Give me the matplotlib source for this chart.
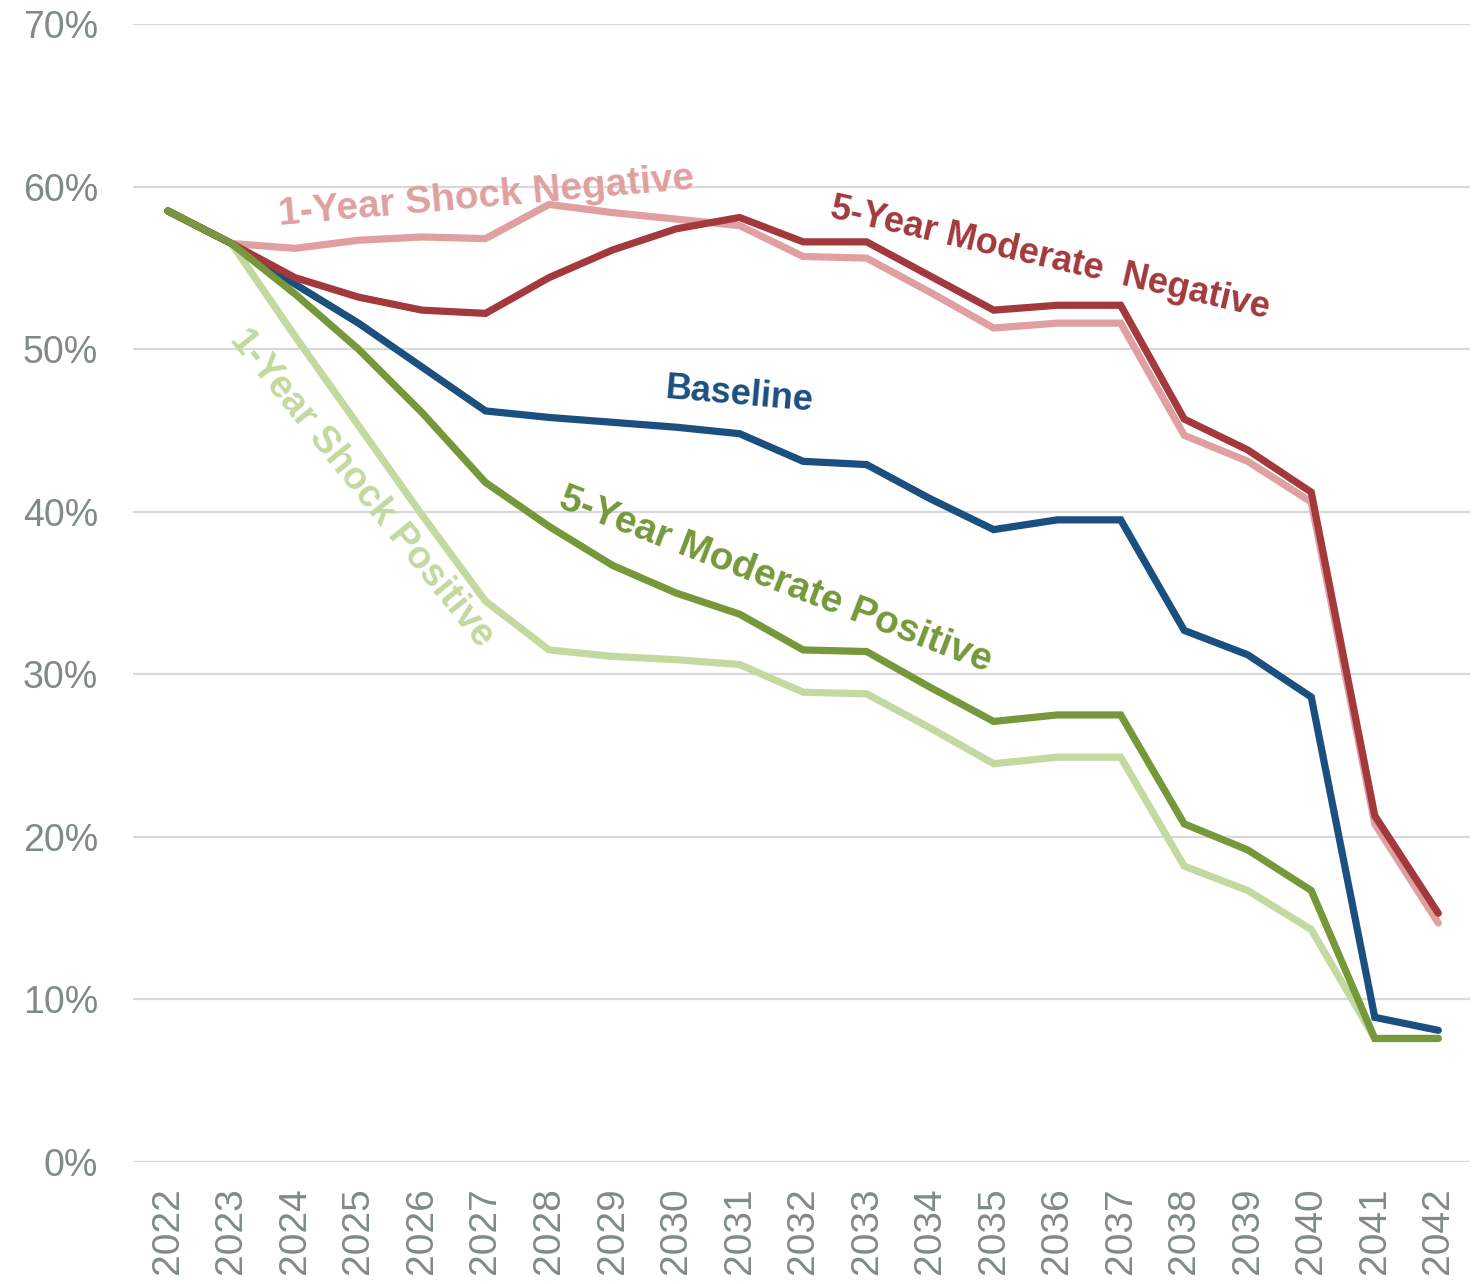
import numpy as np
import matplotlib.pyplot as plt
from matplotlib.ticker import PercentFormatter

plt.rcParams['font.family'] = ['Liberation Sans', 'DejaVu Sans']

years = list(range(2022, 2043))

baseline = [58.5, 56.5, 54.0, 51.6, 48.9, 46.2, 45.8, 45.5, 45.2, 44.8, 43.1, 42.9,
            40.8, 38.9, 39.5, 39.5, 32.7, 31.2, 28.6, 8.9, 8.1]
mod_neg = [58.5, 56.5, 54.4, 53.2, 52.4, 52.2, 54.4, 56.1, 57.4, 58.1, 56.6, 56.6,
           54.5, 52.4, 52.7, 52.7, 45.7, 43.8, 41.2, 21.3, 15.3]
shock_neg = [58.5, 56.5, 56.2, 56.7, 56.9, 56.8, 58.9, 58.4, 58.0, 57.6, 55.7, 55.6,
             53.5, 51.3, 51.6, 51.6, 44.7, 43.1, 40.6, 20.8, 14.7]
mod_pos = [58.5, 56.5, 53.4, 50.0, 46.1, 41.8, 39.1, 36.7, 35.0, 33.7, 31.5, 31.4,
           29.2, 27.1, 27.5, 27.5, 20.8, 19.2, 16.7, 7.6, 7.6]
shock_pos = [58.5, 56.5, 50.8, 45.3, 39.8, 34.5, 31.5, 31.1, 30.9, 30.6, 28.9, 28.8,
             26.7, 24.5, 24.9, 24.9, 18.2, 16.7, 14.3, 7.6, 7.6]

c_blue = '#1a4f7f'
c_red = '#a3393c'
c_pink = '#e0a0a1'
c_green = '#76983a'
c_lgreen = '#c3d99f'
c_tick = '#7f8b89'

fig = plt.figure(figsize=(14.84, 12.84), dpi=100)
ax = fig.add_axes([0.0896, 0.095, 0.901, 0.8863])

lw = 5.2
# drawn back to front so the darker scenarios sit on top
ax.plot(years, np.array(shock_neg) / 100, color=c_pink, lw=lw, solid_capstyle='round', solid_joinstyle='miter', zorder=2)
ax.plot(years, np.array(shock_pos) / 100, color=c_lgreen, lw=lw, solid_capstyle='round', solid_joinstyle='miter', zorder=2)
ax.plot(years, np.array(baseline) / 100, color=c_blue, lw=lw, solid_capstyle='round', solid_joinstyle='miter', zorder=3)
ax.plot(years, np.array(mod_neg) / 100, color=c_red, lw=lw, solid_capstyle='round', solid_joinstyle='miter', zorder=3)
ax.plot(years, np.array(mod_pos) / 100, color=c_green, lw=lw, solid_capstyle='round', solid_joinstyle='miter', zorder=4)

lbl = dict(fontweight='bold', ha='center', va='center', rotation_mode='anchor')
ax.text(2027.02, 0.5935, '1-Year Shock Negative', color=c_pink, rotation=5, fontsize=28, **lbl)
ax.text(2035.89, 0.556, '5-Year Moderate  Negative', color=c_red, rotation=-13, fontsize=26, **lbl)
ax.text(2031.0, 0.4717, 'Baseline', color=c_blue, rotation=-5, fontsize=26, **lbl)
ax.text(2031.56, 0.358, '5-Year Moderate Positive', color=c_green, rotation=-21, fontsize=28, **lbl)
ax.text(2025.06, 0.4145, '1-Year Shock Positive', color=c_lgreen, rotation=-51, fontsize=27.5, **lbl)

ax.set_xlim(2021.45, 2042.5)
ax.set_ylim(0, 0.70)
ax.set_yticks(np.arange(0, 0.71, 0.10))
ax.yaxis.set_major_formatter(PercentFormatter(1.0, decimals=0))
ax.set_xticks(years)
ax.set_xticklabels([str(y) for y in years], rotation=90)

ax.grid(axis='y', color='#d9d9d9', lw=1.6)
ax.set_axisbelow(True)
for s in ax.spines.values():
    s.set_visible(False)
ax.tick_params(axis='both', length=0, colors=c_tick)
ax.tick_params(axis='y', labelsize=27, pad=25)
ax.tick_params(axis='x', labelsize=28, pad=18)

fig.savefig('out.png', dpi=100)
